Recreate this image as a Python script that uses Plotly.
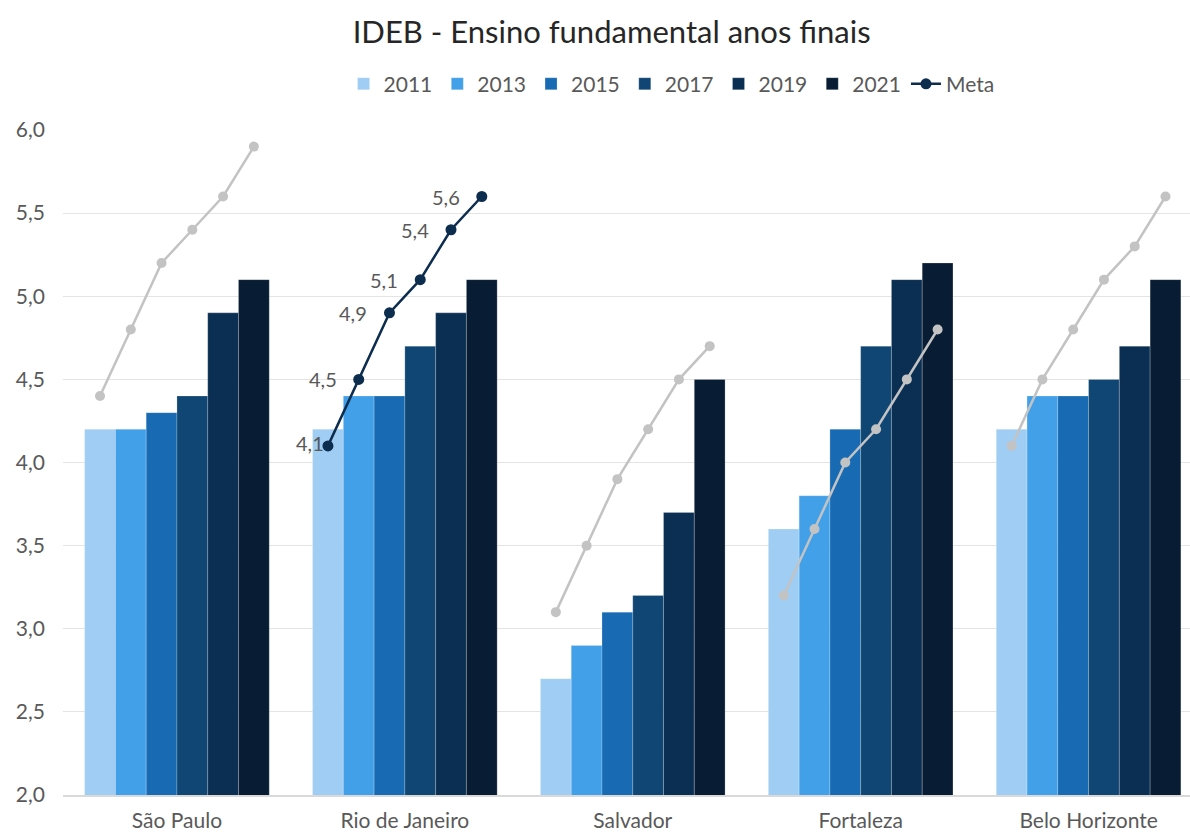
import plotly.graph_objects as go

# IDEB scores, final years of elementary school, by city and year
cities = ["São Paulo", "Rio de Janeiro", "Salvador", "Fortaleza", "Belo Horizonte"]
years = ["2011", "2013", "2015", "2017", "2019", "2021"]

ideb_2011 = [4.2, 4.2, 2.7, 3.6, 4.2]
ideb_2013 = [4.2, 4.4, 2.9, 3.8, 4.4]
ideb_2015 = [4.3, 4.4, 3.1, 4.2, 4.4]
ideb_2017 = [4.4, 4.7, 3.2, 4.7, 4.5]
ideb_2019 = [4.9, 4.9, 3.7, 5.1, 4.7]
ideb_2021 = [5.1, 5.1, 4.5, 5.2, 5.1]

# Targets (meta) per city, one value per year
meta_sao_paulo = [4.4, 4.8, 5.2, 5.4, 5.6, 5.9]
meta_rio = [4.1, 4.5, 4.9, 5.1, 5.4, 5.6]
meta_salvador = [3.1, 3.5, 3.9, 4.2, 4.5, 4.7]
meta_fortaleza = [3.2, 3.6, 4.0, 4.2, 4.5, 4.8]
meta_bh = [4.1, 4.5, 4.8, 5.1, 5.3, 5.6]

series = [ideb_2011, ideb_2013, ideb_2015, ideb_2017, ideb_2019, ideb_2021]
metas = [meta_sao_paulo, meta_rio, meta_salvador, meta_fortaleza, meta_bh]
colors = ["#9fcdf3", "#42a0e9", "#186bb3", "#0f4674", "#0b2f52", "#081d33"]

FONT = "Lato"
TXT = "#595959"
BARGAP = 0.19
HIGHLIGHT = 1  # Rio de Janeiro target line is drawn in colour with labels
n_years = len(years)
bar_w = (1 - BARGAP) / n_years

fig = go.Figure()
idx = list(range(len(cities)))

for yr, vals, col in zip(years, series, colors):
    fig.add_trace(go.Bar(
        x=idx, y=vals, name=yr,
        marker=dict(color=col, line=dict(width=0.6, color="rgba(255,255,255,0.35)")),
    ))


def year_positions(ci):
    return [ci + (j - (n_years - 1) / 2) * bar_w for j in range(n_years)]


# Target lines: each city gets its own line across its year bars
for ci, meta in enumerate(metas):
    hl = ci == HIGHLIGHT
    fig.add_trace(go.Scatter(
        x=year_positions(ci), y=meta,
        mode="lines+markers",
        name="Meta",
        showlegend=hl,
        line=dict(color="#0d2d4f" if hl else "#c3c3c3", width=2.5),
        marker=dict(size=11 if hl else 10, color="#0d2d4f" if hl else "#c3c3c3"),
    ))

# Value labels on the highlighted target line
label_shift = [-2, -20, -20, -20, -20, -20]
for xv, yv, dx in zip(year_positions(HIGHLIGHT), metas[HIGHLIGHT], label_shift):
    fig.add_annotation(
        x=xv, y=yv, text=f"{yv:.1f}".replace(".", ","),
        showarrow=False, xanchor="right", yanchor="middle",
        xshift=dx, yshift=3 if dx > -10 else 0,
        font=dict(family=FONT, size=20, color=TXT),
    )

fig.update_layout(
    width=1190, height=834,
    barmode="group", bargap=BARGAP, bargroupgap=0,
    plot_bgcolor="white", paper_bgcolor="white",
    separators=",.",
    margin=dict(l=63, r=0, t=130, b=39),
    font=dict(family=FONT, size=21, color=TXT),
    title=dict(
        text="IDEB - Ensino fundamental anos finais",
        font=dict(family=FONT, size=31, color="#262626"),
        xref="container", x=0.514, xanchor="center",
        yref="container", y=0.962, yanchor="middle",
    ),
    legend=dict(
        orientation="h", x=0.54, xanchor="center", y=1.069, yanchor="middle",
        font=dict(family=FONT, size=21, color=TXT),
        itemwidth=30, traceorder="normal",
    ),
    xaxis=dict(
        range=[-0.5, 4.445], tickvals=idx, ticktext=cities,
        showgrid=False, zeroline=False,
        showline=True, linecolor="#d9d9d9", linewidth=1.5,
        ticks="", ticklabelstandoff=6,
        tickfont=dict(family=FONT, size=21, color=TXT),
        fixedrange=True,
    ),
    yaxis=dict(
        range=[2, 6], dtick=0.5, tickformat=".1f",
        showgrid=True, gridcolor="#e4e4e4", gridwidth=1.3,
        zeroline=False, showline=False,
        ticks="", ticklabelstandoff=17,
        tickfont=dict(family=FONT, size=21, color=TXT),
    ),
)

fig.write_html("out.html")
